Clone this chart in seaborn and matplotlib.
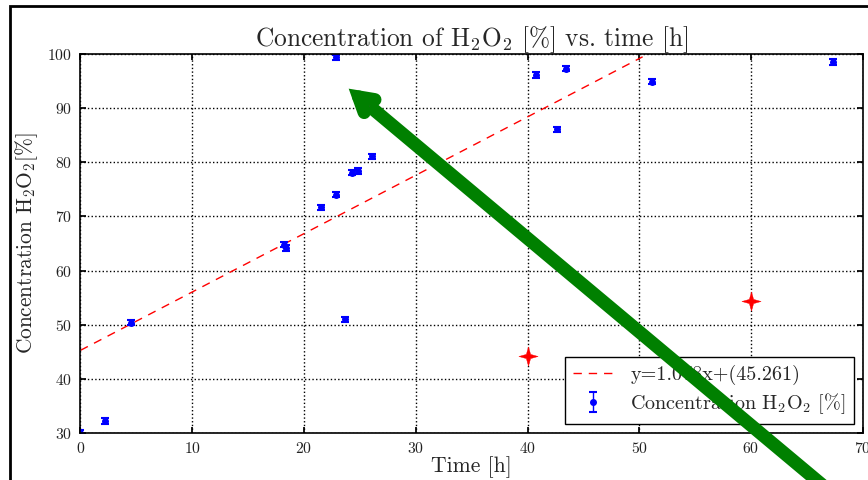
import numpy as np
import pandas as pd
import matplotlib
matplotlib.use("Agg")
import matplotlib.pyplot as plt
import matplotlib.patheffects as pe
from matplotlib.patches import Rectangle
import seaborn as sns

# measured concentration of H2O2 over time
time_h = [0.0, 2.2, 4.5, 18.2, 18.4, 21.5, 22.9, 22.85, 23.7, 24.3, 24.8, 26.1,
          40.8, 42.65, 43.4, 51.1, 67.3]
conc = [30.0, 32.2, 50.4, 64.8, 64.2, 71.7, 74.0, 99.4, 51.0, 78.1, 78.4, 81.1,
        96.1, 86.1, 97.3, 94.9, 98.5]
conc_err = [0.5] * len(time_h)

# two extra points drawn as red stars
star_time = [40.0, 60.0]
star_conc = [44.2, 54.4]

# linear fit shown in the legend
slope = 1.078
intercept = 45.261
fit_range = [0.0, 50.3]

sns.set_theme(style="ticks")
plt.rcParams["font.family"] = "serif"
plt.rcParams["font.serif"] = ["cmr10", "DejaVu Serif"]
plt.rcParams["mathtext.fontset"] = "cm"
plt.rcParams["axes.formatter.use_mathtext"] = True

fig = plt.figure(figsize=(8.68, 4.80), dpi=100)
ax = fig.add_axes([0.0927, 0.098, 0.9013, 0.7895])

# fit line
fit_x = np.linspace(fit_range[0], fit_range[1], 50)
fit_df = pd.DataFrame({"x": fit_x, "y": slope * fit_x + intercept})
sns.lineplot(data=fit_df, x="x", y="y", ax=ax, color="red", linestyle=(0, (6, 5)), lw=1,
             label=f"y={slope}x+({intercept})")

# measurements with error bars
ax.errorbar(time_h, conc, yerr=conc_err, fmt="o", color="blue", ms=4,
            capsize=3.2, elinewidth=1, capthick=1.5,
            label=r"Concentration $\mathrm{H_2O_2}$ [%]")

# red star points (thin four-pointed star)
r_in = 0.22
star_shape = [(0, 1), (r_in, r_in), (1, 0), (r_in, -r_in), (0, -1),
              (-r_in, -r_in), (-1, 0), (-r_in, r_in), (0, 1)]
star_df = pd.DataFrame({"t": star_time, "c": star_conc})
sns.scatterplot(data=star_df, x="t", y="c", ax=ax, marker=star_shape, s=190,
                color="red", edgecolor="red", linewidth=0.3, legend=False,
                zorder=4)

ax.set_xlim(0, 70)
ax.set_ylim(30, 100)
ax.set_xticks(range(0, 71, 10))
ax.set_yticks(range(30, 101, 10))
ax.grid(True, color="black", linestyle=":", linewidth=1)
ax.tick_params(direction="in", top=True, right=True, labelsize=11.3,
               length=4, colors="black", labelcolor="#222222", pad=6)
for s in ax.spines.values():
    s.set_color("black")
    s.set_linewidth(1.2)

ax.set_title(r"Concentration of $\mathrm{H_2O_2}$ [%] vs. time [h]", fontsize=18.3, pad=6)
ax.set_xlabel("Time [h]", fontsize=15.6, labelpad=0)
ax.set_ylabel(r"Concentration $\mathrm{H_2O_2}$[%]", fontsize=15.4, labelpad=5)

leg = ax.legend(loc="lower right", fontsize=14.5, frameon=True, fancybox=False,
                borderaxespad=0.45, borderpad=0.4, handlelength=2.0,
                handletextpad=0.85, labelspacing=0.3, numpoints=1)
leg.get_frame().set_edgecolor("black")
leg.get_frame().set_linewidth(1)
leg.get_frame().set_alpha(1)

# green arrow drawn over the chart
ax.annotate("", xy=(24.0, 93.6), xytext=(68.8, 16.2),
            xycoords="data", textcoords="data", annotation_clip=False,
            arrowprops=dict(arrowstyle="->,head_length=0.85,head_width=0.5",
                            color="green", lw=9.5, capstyle="round",
                            joinstyle="miter", shrinkA=0, shrinkB=0,
                            path_effects=[pe.SimplePatchShadow(offset=(-2, -3), alpha=0.2),
                                          pe.Normal()]),
            zorder=10)

# outer border of the screenshot
fig.add_artist(Rectangle((10 / 868, -0.1), 1.2, 1.1 - 6 / 480,
                         transform=fig.transFigure, fill=False,
                         edgecolor="black", lw=2))

fig.savefig("out.png", dpi=100)
